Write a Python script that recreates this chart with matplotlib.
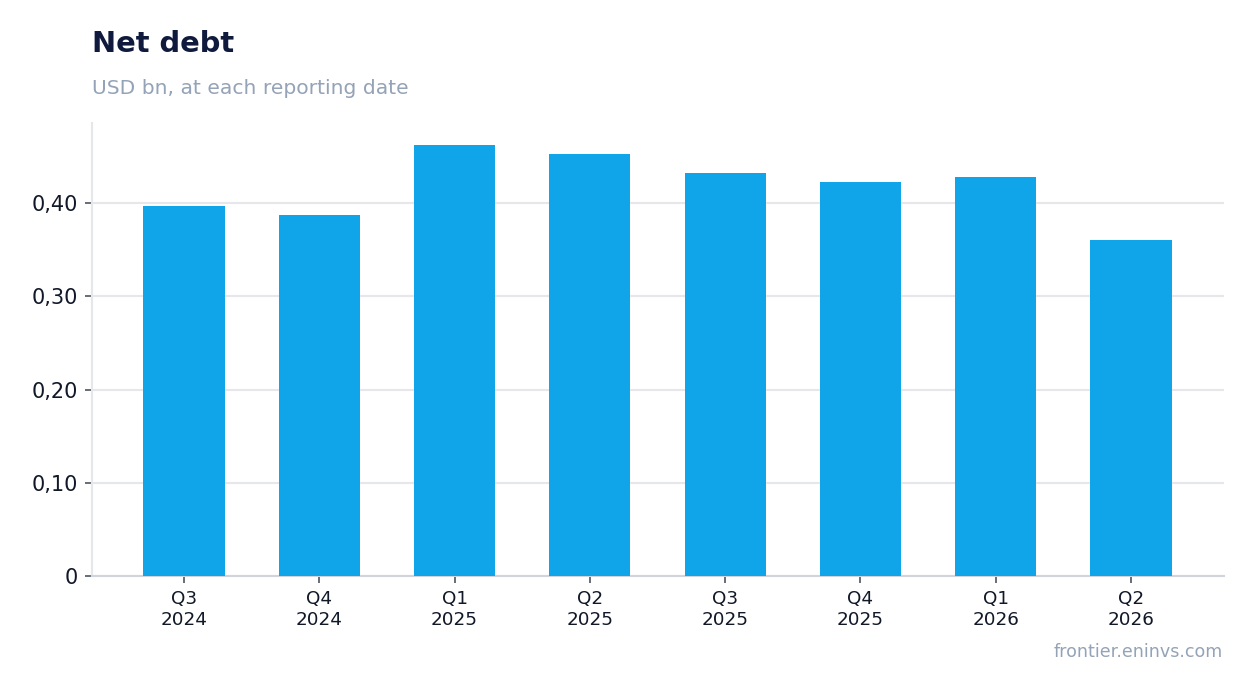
import matplotlib
matplotlib.use("Agg")
import matplotlib.pyplot as plt
from matplotlib.ticker import FuncFormatter

categories = ["Q3\n2024", "Q4\n2024", "Q1\n2025", "Q2\n2025", "Q3\n2025", "Q4\n2025", "Q1\n2026", "Q2\n2026"]
net_debt = [0.397, 0.387, 0.462, 0.4525, 0.432, 0.4225, 0.428, 0.360]
yticks = [0, 0.10, 0.20, 0.30, 0.40]

plt.rcParams['font.family'] = ['DejaVu Sans']

fig = plt.figure(figsize=(12.54, 6.93), dpi=100)
ax = fig.add_axes([92/1254, 117/693, (1224-92)/1254, (576-123)/693])

x = list(range(len(categories)))
ax.bar(x, net_debt, width=0.6, color="#10a5e8", zorder=3)

ax.set_xlim(-0.68, len(categories) - 1 + 0.687)
ax.set_ylim(0, 0.486)
ax.set_yticks(yticks)

def fmt(v, pos):
    if abs(v) < 1e-9:
        return "0"
    return f"{v:.2f}".replace(".", ",")

ax.yaxis.set_major_formatter(FuncFormatter(fmt))
ax.set_xticks(x)
ax.set_xticklabels(categories)

ax.grid(axis="y", color="#e5e7eb", linewidth=1.5, zorder=0)
ax.set_axisbelow(True)
for s in ["top", "right"]:
    ax.spines[s].set_visible(False)
ax.spines["left"].set_color("#e5e7eb")
ax.spines["left"].set_linewidth(1.5)
ax.spines["bottom"].set_color("#d1d5db")
ax.spines["bottom"].set_linewidth(1.5)

ax.tick_params(axis="y", labelsize=15, colors="#4b5563", labelcolor="#111827", length=5, width=1.2, pad=5)
ax.tick_params(axis="x", labelsize=13.2, colors="#4b5563", labelcolor="#111827", length=5, width=1.2, pad=5)

fig.text(92/1254, 1 - 44/693, "Net debt", fontsize=20.8, fontweight="bold", color="#0f1a3d", va="center", ha="left")
fig.text(92/1254, 1 - 88/693, "USD bn, at each reporting date", fontsize=14.6, color="#94a3b8", va="center", ha="left")
fig.text(1223/1254, 1 - 652/693, "frontier.eninvs.com", fontsize=12.6, color="#94a3b8", va="center", ha="right")

fig.savefig("out.png", dpi=100, facecolor="white")
